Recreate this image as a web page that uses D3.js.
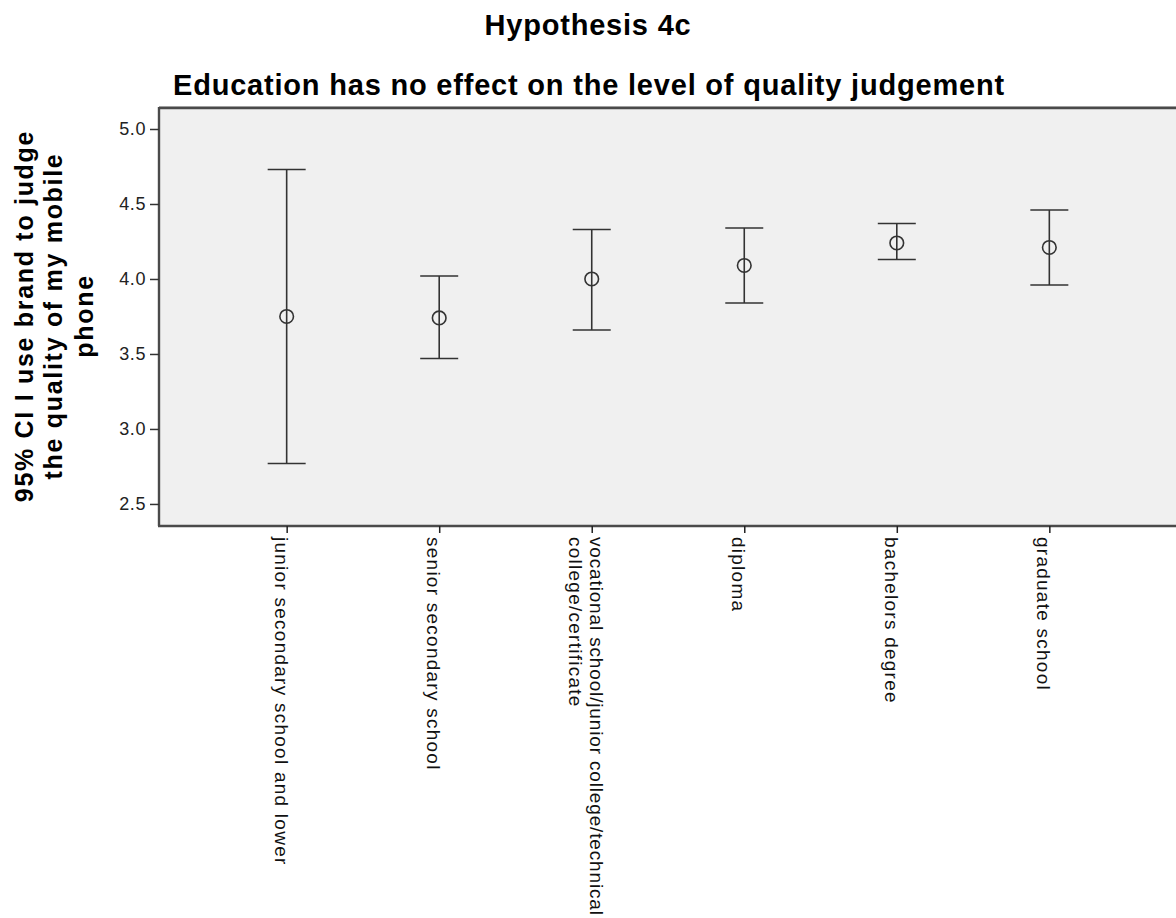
<!DOCTYPE html>
<html>
<head>
<meta charset="utf-8">
<script src="https://cdn.jsdelivr.net/npm/d3@7"></script>
<style>
  html, body { margin: 0; padding: 0; background: #ffffff; }
  svg { display: block; font-family: "Liberation Sans", Arial, sans-serif; }
</style>
</head>
<body>
<svg id="chart" width="1176" height="918"></svg>
<script>
// Education groups (axis order) and the label lines drawn under each tick
const categories = [
  "junior secondary school and lower",
  "senior secondary school",
  "vocational school/junior college/technical college/certificate",
  "diploma",
  "bachelors degree",
  "graduate school"
];
const categoryLabelLines = [
  ["junior secondary school and lower"],
  ["senior secondary school"],
  ["vocational school/junior college/technical", "college/certificate"],
  ["diploma"],
  ["bachelors degree"],
  ["graduate school"]
];

// Mean score and 95% confidence interval per group
const means = [3.75, 3.74, 4.00, 4.09, 4.24, 4.21];
const ciLower = [2.77, 3.47, 3.66, 3.84, 4.13, 3.96];
const ciUpper = [4.73, 4.02, 4.33, 4.34, 4.37, 4.46];

const yTickValues = [2.5, 3.0, 3.5, 4.0, 4.5, 5.0];
const yDomain = [2.353, 5.14];

const titleText = "Hypothesis 4c";
const subtitleText = "Education has no effect on the level of quality judgement";
const yTitleLines = ["95% CI I use brand to judge", "the quality of my mobile", "phone"];

const rows = categories.map((c, i) => ({
  cat: c, lines: categoryLabelLines[i], mean: means[i], lo: ciLower[i], hi: ciUpper[i]
}));

const W = 1176, H = 918;
const svg = d3.select("#chart");

// Plot frame
const plot = { left: 159, top: 108, right: 1177, bottom: 526 };

const x = d3.scalePoint()
  .domain(categories)
  .range([plot.left, plot.right])
  .padding(0.837);

const y = d3.scaleLinear()
  .domain(yDomain)
  .range([plot.bottom, plot.top]);

// Titles
svg.append("text")
  .attr("x", 588).attr("y", 35)
  .attr("text-anchor", "middle")
  .attr("font-weight", "bold")
  .attr("font-size", 29)
  .attr("letter-spacing", 0.8)
  .attr("fill", "#000")
  .text(titleText);

svg.append("text")
  .attr("x", 173).attr("y", 95)
  .attr("font-weight", "bold")
  .attr("font-size", 29)
  .attr("letter-spacing", 0.8)
  .attr("fill", "#000")
  .text(subtitleText);

// Plot background
svg.append("rect")
  .attr("x", plot.left).attr("y", plot.top)
  .attr("width", plot.right - plot.left + 10)
  .attr("height", plot.bottom - plot.top)
  .attr("fill", "#f0f0f0");

// Error bars
const bars = svg.append("g").attr("class", "errorbars")
  .attr("stroke", "#333").attr("stroke-width", 1.6).attr("fill", "none");

const capHalf = 19;
const g = bars.selectAll("g").data(rows).join("g");
g.append("line")
  .attr("x1", d => x(d.cat)).attr("x2", d => x(d.cat))
  .attr("y1", d => y(d.hi)).attr("y2", d => y(d.lo));
g.append("line")
  .attr("x1", d => x(d.cat) - capHalf).attr("x2", d => x(d.cat) + capHalf)
  .attr("y1", d => y(d.hi)).attr("y2", d => y(d.hi));
g.append("line")
  .attr("x1", d => x(d.cat) - capHalf).attr("x2", d => x(d.cat) + capHalf)
  .attr("y1", d => y(d.lo)).attr("y2", d => y(d.lo));
g.append("circle")
  .attr("cx", d => x(d.cat)).attr("cy", d => y(d.mean))
  .attr("r", 6.8);

// Top edge of the frame
svg.append("line")
  .attr("x1", plot.left).attr("x2", plot.right + 10)
  .attr("y1", plot.top - 1.5).attr("y2", plot.top - 1.5)
  .attr("stroke", "#bdbdbd").attr("stroke-width", 1);
svg.append("line")
  .attr("x1", plot.left).attr("x2", plot.right + 10)
  .attr("y1", plot.top).attr("y2", plot.top)
  .attr("stroke", "#4a4a4a").attr("stroke-width", 2.4);

// Y axis
const yAxis = svg.append("g")
  .attr("transform", `translate(${plot.left},0)`)
  .call(d3.axisLeft(y).tickValues(yTickValues).tickFormat(d3.format(".1f"))
    .tickSize(9).tickPadding(4));
yAxis.select(".domain").attr("stroke", "#4a4a4a").attr("stroke-width", 2.4)
  .attr("d", `M0,${plot.top - 1}V${plot.bottom}`);
yAxis.selectAll(".tick line").attr("stroke", "#333").attr("stroke-width", 1.5);
yAxis.selectAll(".tick text")
  .attr("font-size", 18)
  .attr("letter-spacing", 0.6)
  .attr("fill", "#222")
  .attr("font-family", "\"Liberation Sans\", Arial, sans-serif");

// X axis
const xAxis = svg.append("g")
  .attr("transform", `translate(0,${plot.bottom})`)
  .call(d3.axisBottom(x).tickSize(7).tickFormat(""));
xAxis.select(".domain").attr("stroke", "#4a4a4a").attr("stroke-width", 2.4)
  .attr("d", `M${plot.left - 1},0H${plot.right + 10}`);
xAxis.selectAll(".tick line").attr("stroke", "#222").attr("stroke-width", 1.5);

// Rotated category labels, reading downwards; long lines are tightened to fit the page
const lineGap = 21;
const labelTop = 537;
const labels = svg.append("g").attr("class", "xlabels");
rows.forEach(d => {
  const n = d.lines.length;
  d.lines.forEach((ln, j) => {
    const bx = x(d.cat) - 12 + (n - 1) * lineGap / 2 - j * lineGap;
    const t = labels.append("text")
      .attr("transform", `translate(${bx},${labelTop}) rotate(90)`)
      .attr("font-size", 19)
      .attr("letter-spacing", 1.25)
      .attr("fill", "#111")
      .text(ln);
    const room = H - 3 - labelTop;
    if (t.node().getComputedTextLength() > room) {
      t.attr("textLength", room).attr("lengthAdjust", "spacing").attr("letter-spacing", null);
    }
  });
});

// Y axis title (three lines, rotated)
const yTitle = svg.append("g");
const yBaselines = [33, 62, 93];
yTitleLines.forEach((ln, i) => {
  yTitle.append("text")
    .attr("transform", `translate(${yBaselines[i]},316) rotate(-90)`)
    .attr("text-anchor", "middle")
    .attr("font-weight", "bold")
    .attr("font-size", 25)
    .attr("letter-spacing", 1.7)
    .attr("fill", "#000")
    .text(ln);
});
</script>
</body>
</html>
